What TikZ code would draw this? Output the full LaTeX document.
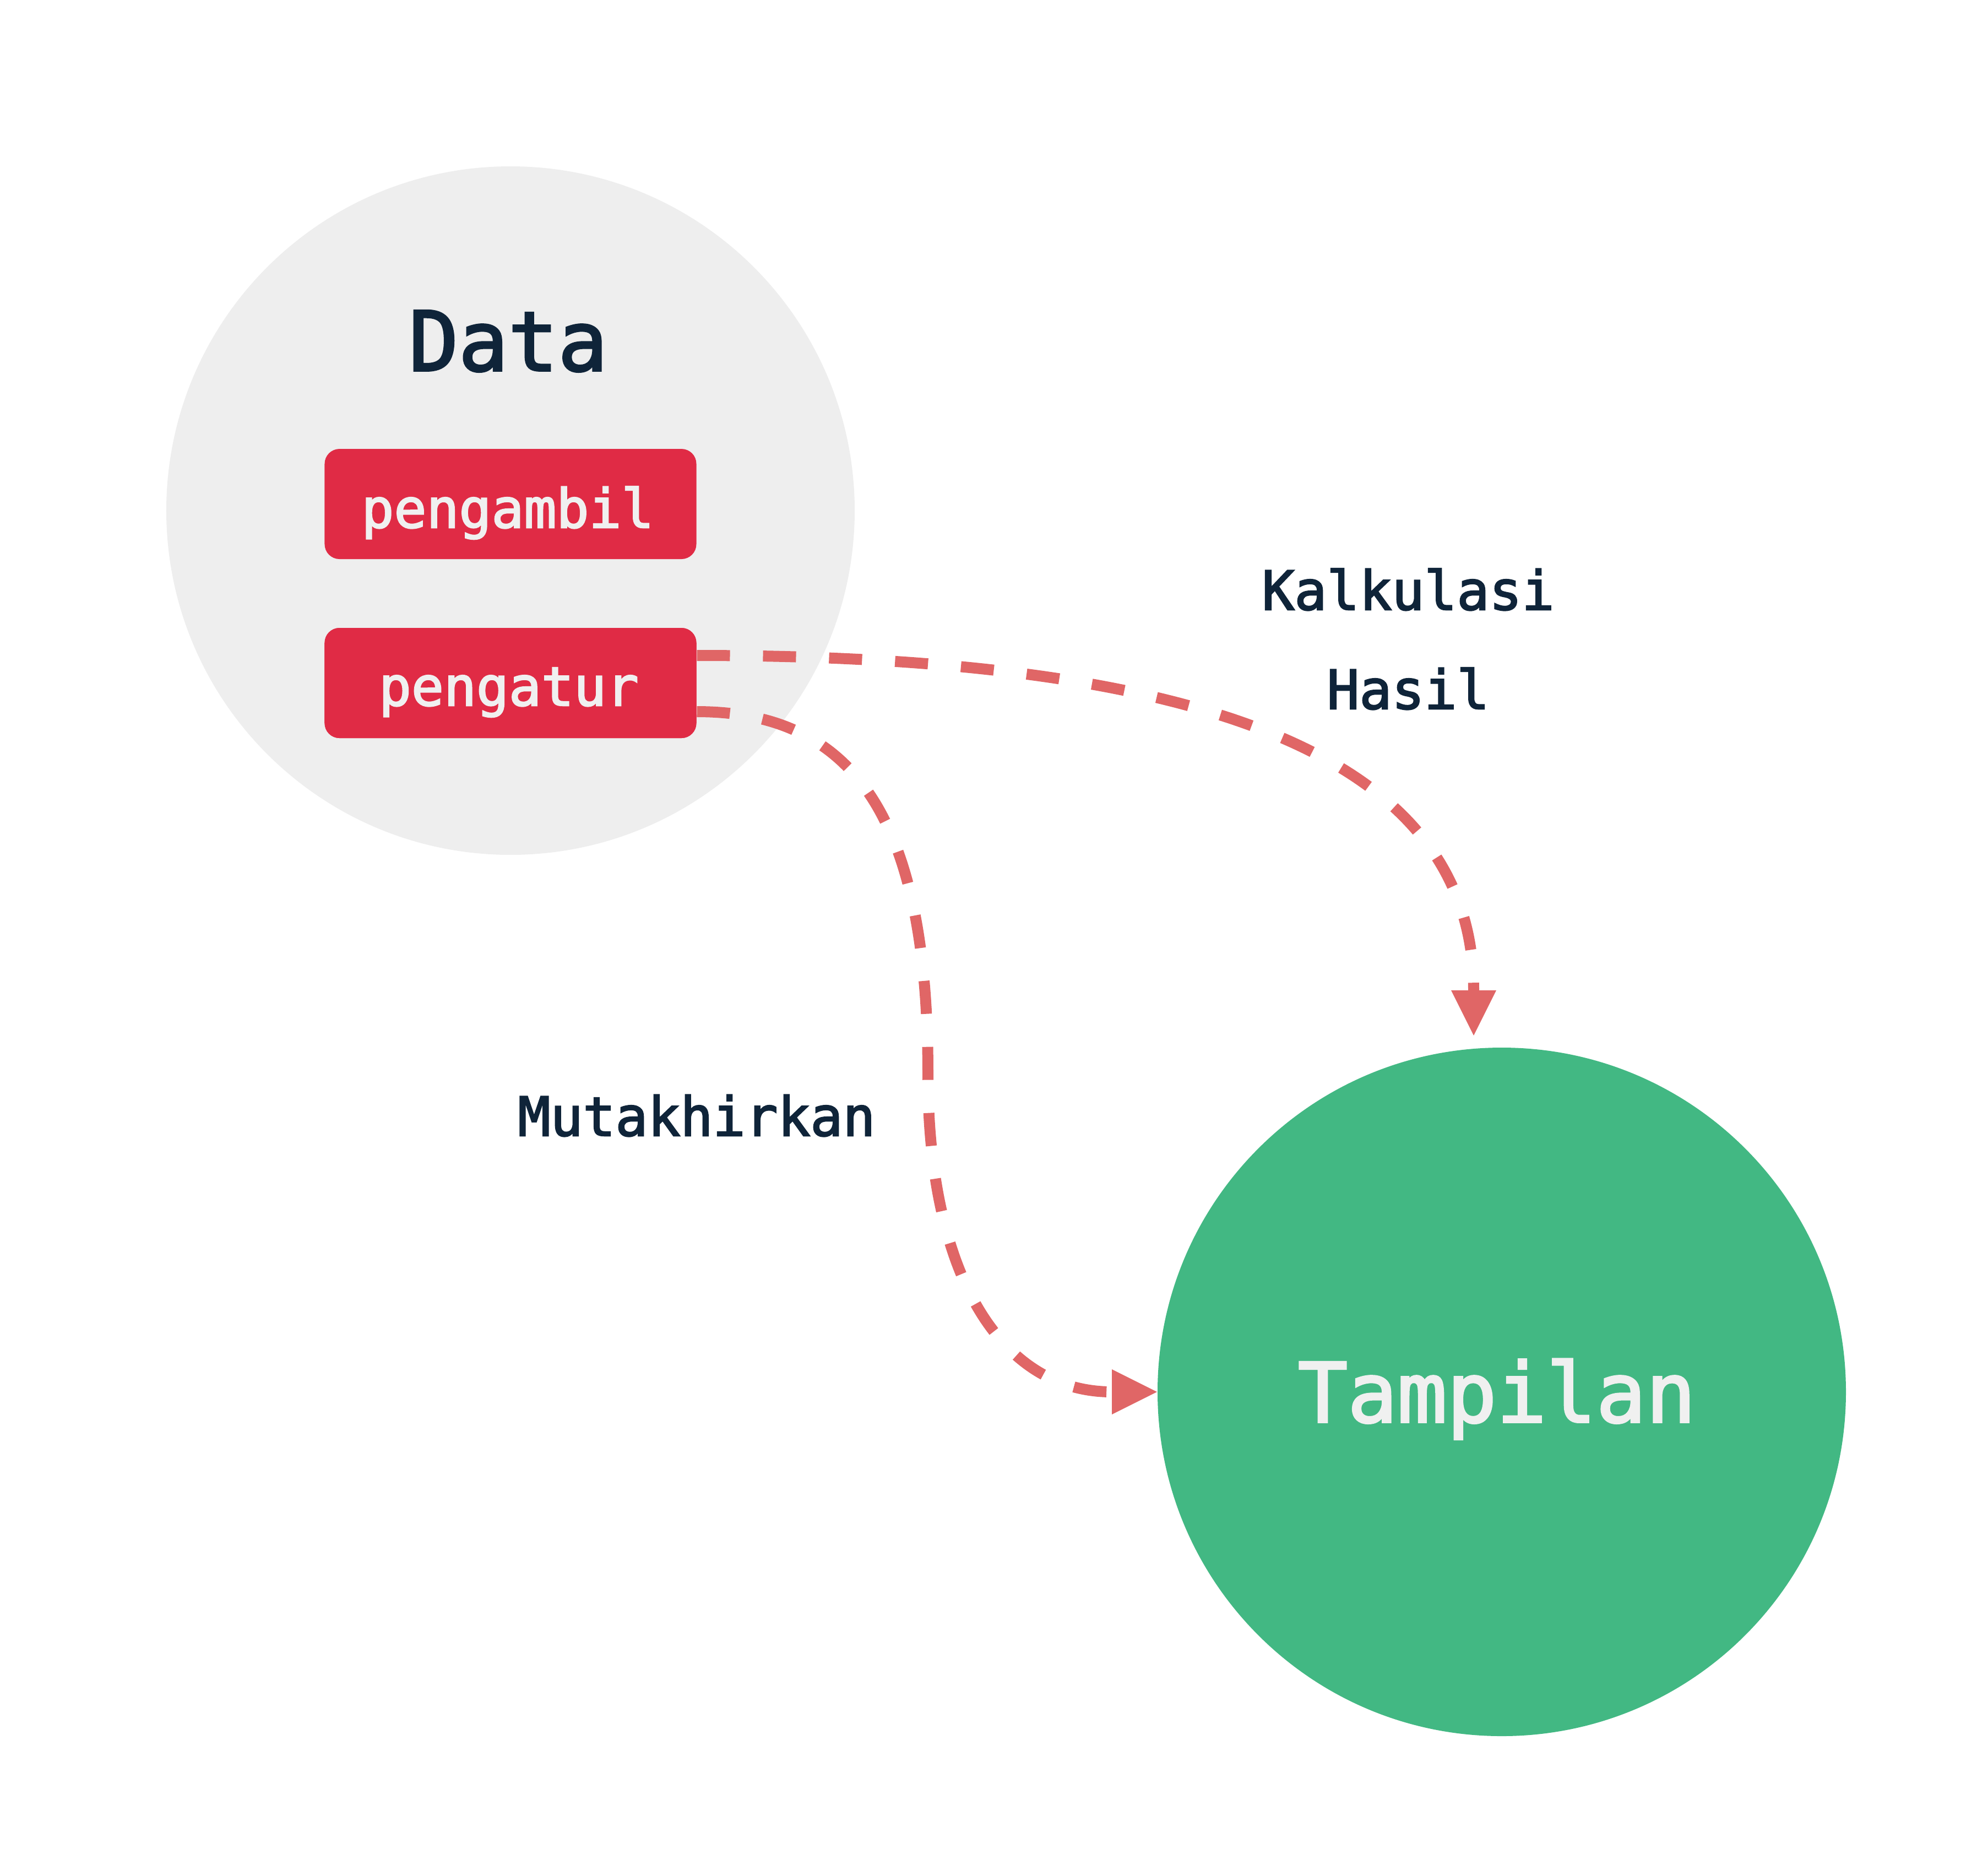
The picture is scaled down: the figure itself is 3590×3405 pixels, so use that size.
\documentclass[tikz,border=0pt]{standalone}
\usepackage{fontspec}
\newfontfamily\monof[FakeBold=2.5]{DejaVu Sans Mono}
\usetikzlibrary{arrows.meta}
\definecolor{dataGray}{HTML}{EEEEEE}
\definecolor{viewGreen}{HTML}{42B883}
\definecolor{boxRed}{HTML}{E02B45}
\definecolor{edgeRed}{HTML}{E06666}
\definecolor{inkDark}{HTML}{0F2439}
\definecolor{inkLight}{HTML}{F0F0F0}
\begin{document}
\begin{tikzpicture}[x=0.2pt,y=-0.2pt,
  bigcircle/.style={circle,minimum size=250pt,inner sep=0pt,draw=none},
  membox/.style={rectangle,rounded corners=5.4pt,fill=boxRed,minimum width=135pt,minimum height=40pt,inner sep=0pt},
  titletext/.style={font=\monof\fontsize{30pt}{36pt}\selectfont,anchor=base,inner sep=0pt},
  lbl/.style={font=\monof\fontsize{19.6pt}{36pt}\selectfont,anchor=base,inner sep=0pt},
  flow/.style={draw=edgeRed,line width=4pt,dash pattern=on 12pt off 12pt,
    -{Triangle[length=16.4pt,width=16.4pt,line width=0pt]}}]
\useasboundingbox (0,0) rectangle (3590,3405);
% circles
\node[bigcircle,fill=dataGray] (data) at (927,927) {};
\node[bigcircle,fill=viewGreen] (view) at (2727,2527) {};
\node[titletext,text=inkDark] (datat) at (923,673) {Data};
\node[titletext,text=inkLight] (viewt) at (2718,2582) {Tampilan};
% edges
\node[membox] (setter) at (927,1240) {};
\draw[flow] ([yshift=10pt]setter.east) .. controls (2250,1190) and (2676,1400) .. ([xshift=-10.2pt,yshift=4.2pt]view.north);
\draw[flow] ([yshift=-10.4pt]setter.east) .. controls (1560,1292) and (1685,1500) .. (1685,1950)
  .. controls (1685,2320) and (1820,2527) .. (view.west);
% boxes
\node[membox] (getter) at (927,915) {};
\node[membox] (setter2) at (927,1240) {};
\node[lbl,text=inkLight] (gettert) at (922,958) {pengambil};
\node[lbl,text=inkLight] (settert) at (924,1281) {pengatur};
% labels
\node[lbl,text=inkDark,align=center] (calc) at (2557,1287) {Kalkulasi\\Hasil};
\node[lbl,text=inkDark] (upd) at (1265,2062) {Mutakhirkan};
\end{tikzpicture}
\end{document}
